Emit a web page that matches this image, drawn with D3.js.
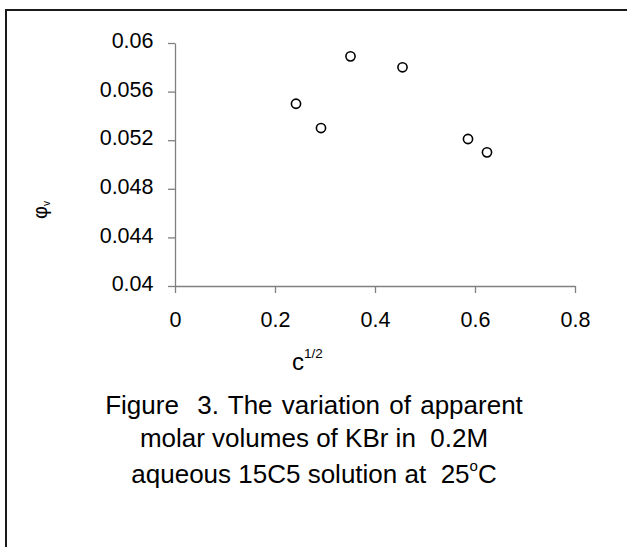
<!DOCTYPE html>
<html lang="en">
  <head>
    <meta charset="utf-8">
    <title>Figure 3</title>
    <script src="https://d3js.org/d3.v7.min.js"></script>
    <style>
    body {
      margin: 0;
      background: #fff;
    }
    svg text {
      font-family: "Liberation Sans", Arial, sans-serif;
      fill: #000;
    }
    </style>
  </head>
  <body>
    <div id="chart"></div>
    <script>
    // data
    var cHalf = [0.242, 0.292, 0.351, 0.455, 0.586, 0.624];
    var phiV = [0.0550, 0.0530, 0.0589, 0.0580, 0.0521, 0.0510];

    var xTicks = [0, 0.2, 0.4, 0.6, 0.8];
    var xTickLabels = ["0", "0.2", "0.4", "0.6", "0.8"];
    var yTicks = [0.04, 0.044, 0.048, 0.052, 0.056, 0.06];
    var yTickLabels = ["0.04", "0.044", "0.048", "0.052", "0.056", "0.06"];

    var captionLines = [
      "Figure  3. The variation of apparent",
      "molar volumes of KBr in  0.2M",
      "aqueous 15C5 solution at  25"
    ];

    var W = 627, H = 547;
    var svg = d3.select("#chart").append("svg")
      .attr("width", W).attr("height", H);

    // frame (only top and left edges are inside the picture)
    svg.append("path")
      .attr("d", "M6,548 L6,10 L628,10")
      .attr("fill", "none")
      .attr("stroke", "#1a1a1a")
      .attr("stroke-width", 2);

    var x = d3.scaleLinear().domain([0, 0.8]).range([175, 575]);
    var y = d3.scaleLinear().domain([0.04, 0.06]).range([286, 43]);

    var xAxis = d3.axisBottom(x)
      .tickValues(xTicks)
      .tickFormat(function (d, i) { return xTickLabels[i]; })
      .tickSizeInner(7).tickSizeOuter(0).tickPadding(19);

    var yAxis = d3.axisLeft(y)
      .tickValues(yTicks)
      .tickFormat(function (d, i) { return yTickLabels[i]; })
      .tickSizeInner(7).tickSizeOuter(0).tickPadding(14.5);

    var gx = svg.append("g")
      .attr("transform", "translate(0," + y(0.04) + ")")
      .call(xAxis);
    var gy = svg.append("g")
      .attr("transform", "translate(" + x(0) + ",0)")
      .call(yAxis);

    [gx, gy].forEach(function (g) {
      g.attr("font-size", null).attr("font-family", null);
      g.selectAll("path, line")
        .attr("stroke", "#808080")
        .attr("stroke-width", 1.3);
      g.selectAll("text")
        .style("font-size", "21.5px")
        .attr("fill", "#000");
    });
    gy.selectAll("text").attr("dy", "0.22em");

    // points
    svg.append("g").selectAll("circle")
      .data(cHalf)
      .enter().append("circle")
      .attr("cx", function (d) { return x(d); })
      .attr("cy", function (d, i) { return y(phiV[i]); })
      .attr("r", 4.6)
      .attr("fill", "none")
      .attr("stroke", "#000")
      .attr("stroke-width", 1.6);

    // x axis title c^(1/2)
    var xt = svg.append("text")
      .attr("x", 292).attr("y", 370)
      .style("font-size", "24px");
    xt.append("tspan").text("c");
    xt.append("tspan")
      .attr("dy", -12.5)
      .style("font-size", "13.5px")
      .text("1/2");

    // y axis title phi_v
    var yt = svg.append("text")
      .attr("transform", "translate(47,210) rotate(-90)")
      .attr("text-anchor", "middle")
      .style("font-size", "20px");
    yt.append("tspan").text("\u03c6");
    yt.append("tspan")
      .attr("dy", 3)
      .style("font-size", "10px")
      .text("v");

    // caption
    var capY = [414, 446.5, 483];
    captionLines.forEach(function (line, i) {
      var t = svg.append("text")
        .attr("x", 314).attr("y", capY[i])
        .attr("text-anchor", "middle")
        .style("font-size", "26px")
        .style("word-spacing", i === 0 ? "2px" : null)
        .style("white-space", "pre")
        .attr("xml:space", "preserve");
      t.append("tspan").text(line);
      if (i === 2) {
        t.append("tspan")
          .attr("dy", -12)
          .style("font-size", "15px")
          .text("o");
        t.append("tspan")
          .attr("dy", 12)
          .text("C");
      }
    });
    </script>
  </body>
</html>
